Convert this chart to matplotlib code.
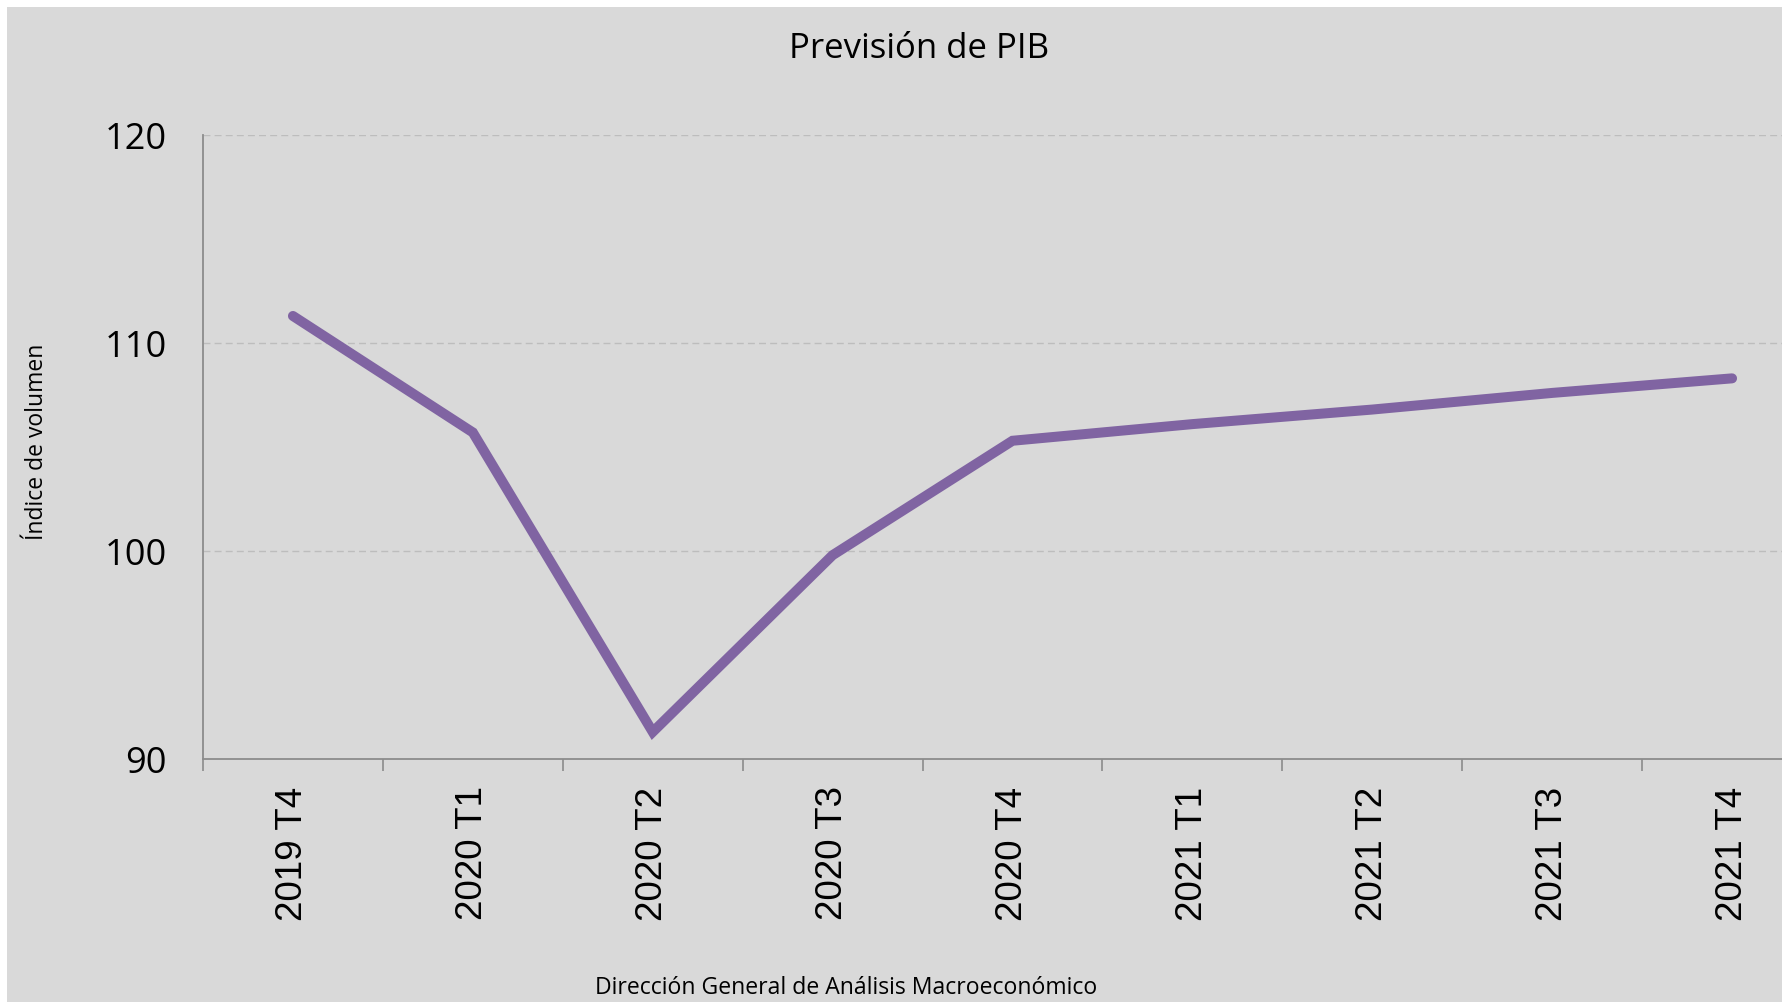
import matplotlib.pyplot as plt
import matplotlib.patches as mpatches

# datos
trimestres = ['2019 T4', '2020 T1', '2020 T2', '2020 T3', '2020 T4',
              '2021 T1', '2021 T2', '2021 T3', '2021 T4']
pib = [111.3, 105.7, 91.3, 99.8, 105.3, 106.1, 106.8, 107.6, 108.3]
yticks = [90, 100, 110, 120]

BG = '#d9d9d9'
LINE = '#8064a2'


def main():
    fig = plt.figure(figsize=(17.83, 10.03), dpi=100)
    fig.patch.set_facecolor('white')
    # fondo gris (deja una franja blanca arriba y a la izquierda)
    fig.patches.append(mpatches.Rectangle((7 / 1783, 0), 1, (1003 - 8) / 1003,
                                          transform=fig.transFigure,
                                          facecolor=BG, edgecolor='none', zorder=-5))

    ax = fig.add_axes([203 / 1783, (1003 - 760) / 1003, 1619 / 1783, 624 / 1003])
    ax.set_facecolor(BG)

    x = list(range(len(trimestres)))
    ax.plot(x, pib, color=LINE, lw=7.2, solid_capstyle='round',
            solid_joinstyle='miter', zorder=3)

    ax.set_xlim(-0.5, len(trimestres) - 0.5)
    ax.set_ylim(90, 120)
    ax.set_yticks(yticks)
    ax.set_yticklabels([str(v) for v in yticks], family='Open Sans',
                       fontsize=26, color='black')
    ax.tick_params(axis='y', length=0, pad=26)

    ax.set_xticks(x)
    ax.set_xticklabels(trimestres, rotation=90, family='Liberation Sans',
                       fontsize=26.5, va='top')
    ax.set_xticks([i - 0.5 for i in range(len(trimestres) + 1)], minor=True)
    ax.tick_params(axis='x', which='major', length=0, pad=19)
    ax.tick_params(axis='x', which='minor', length=8.5, width=1.2, color='#8c8c8c')

    for v in yticks[1:]:
        ax.axhline(v, color='#bdbdbd', lw=1.0, ls=(0, (5, 3)), zorder=1)

    for s in ['top', 'right']:
        ax.spines[s].set_visible(False)
    for s in ['left', 'bottom']:
        ax.spines[s].set_color('#8c8c8c')
        ax.spines[s].set_linewidth(1.3)

    fig.text(919 / 1783, 1 - 58 / 1003, 'Previsión de PIB', family='Open Sans',
             fontsize=25, ha='center', va='baseline')
    fig.text(37 / 1783, 1 - 442 / 1003, 'Índice de volumen', family='Open Sans',
             fontsize=16.5, rotation=90, ha='center', va='center')
    fig.text(846 / 1783, 1 - 994 / 1003, 'Dirección General de Análisis Macroeconómico',
             family='Open Sans', fontsize=16.6, ha='center', va='baseline')

    fig.savefig('out.png', dpi=100)


if __name__ == '__main__':
    main()
